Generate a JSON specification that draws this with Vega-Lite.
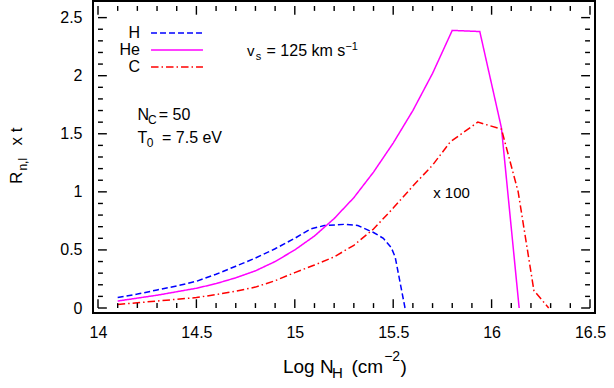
{
  "$schema": "https://vega.github.io/schema/vega-lite/v6.json",
  "width": 502,
  "height": 312,
  "autosize": {"type": "none"},
  "padding": {"left": 93, "top": 1, "right": 19, "bottom": 75},
  "background": "white",
  "config": {
    "view": {"stroke": "black", "strokeWidth": 2},
    "font": "Liberation Sans",
    "axis": {"domain": false, "grid": false, "ticks": false, "labelFont": "Liberation Sans", "labelFontSize": 16, "labelColor": "black", "labelFlush": false, "labelOverlap": false, "labelPadding": 11},
    "text": {"font": "Liberation Sans", "color": "black"}
  },
  "datasets": {
    "one": [{}],
    "xmaj": [{"v": 14}, {"v": 14.5}, {"v": 15}, {"v": 15.5}, {"v": 16}, {"v": 16.5}],
    "xmin": [{"v": 14.1}, {"v": 14.2}, {"v": 14.3}, {"v": 14.4}, {"v": 14.6}, {"v": 14.7}, {"v": 14.8}, {"v": 14.9}, {"v": 15.1}, {"v": 15.2}, {"v": 15.3}, {"v": 15.4}, {"v": 15.6}, {"v": 15.7}, {"v": 15.8}, {"v": 15.9}, {"v": 16.1}, {"v": 16.2}, {"v": 16.3}, {"v": 16.4}],
    "ymaj": [{"v": 0}, {"v": 0.5}, {"v": 1}, {"v": 1.5}, {"v": 2}, {"v": 2.5}],
    "ymin": [{"v": 0.1}, {"v": 0.2}, {"v": 0.3}, {"v": 0.4}, {"v": 0.6}, {"v": 0.7}, {"v": 0.8}, {"v": 0.9}, {"v": 1.1}, {"v": 1.2}, {"v": 1.3}, {"v": 1.4}, {"v": 1.6}, {"v": 1.7}, {"v": 1.8}, {"v": 1.9}, {"v": 2.1}, {"v": 2.2}, {"v": 2.3}, {"v": 2.4}],
    "curves": [
      {"x": 14.1, "y": 0.09, "s": "H"}, {"x": 14.2, "y": 0.12, "s": "H"}, {"x": 14.3, "y": 0.155, "s": "H"}, {"x": 14.4, "y": 0.19, "s": "H"}, {"x": 14.5, "y": 0.23, "s": "H"}, {"x": 14.6, "y": 0.29, "s": "H"}, {"x": 14.7, "y": 0.36, "s": "H"}, {"x": 14.8, "y": 0.43, "s": "H"}, {"x": 14.9, "y": 0.51, "s": "H"}, {"x": 15.0, "y": 0.6, "s": "H"}, {"x": 15.08, "y": 0.68, "s": "H"}, {"x": 15.15, "y": 0.71, "s": "H"}, {"x": 15.25, "y": 0.72, "s": "H"}, {"x": 15.32, "y": 0.71, "s": "H"}, {"x": 15.4, "y": 0.65, "s": "H"}, {"x": 15.45, "y": 0.6, "s": "H"}, {"x": 15.49, "y": 0.52, "s": "H"}, {"x": 15.51, "y": 0.44, "s": "H"}, {"x": 15.535, "y": 0.22, "s": "H"}, {"x": 15.56, "y": 0.0, "s": "H"},
      {"x": 14.1, "y": 0.06, "s": "He"}, {"x": 14.2, "y": 0.085, "s": "He"}, {"x": 14.3, "y": 0.11, "s": "He"}, {"x": 14.4, "y": 0.14, "s": "He"}, {"x": 14.5, "y": 0.17, "s": "He"}, {"x": 14.6, "y": 0.21, "s": "He"}, {"x": 14.7, "y": 0.26, "s": "He"}, {"x": 14.8, "y": 0.32, "s": "He"}, {"x": 14.9, "y": 0.4, "s": "He"}, {"x": 15.0, "y": 0.5, "s": "He"}, {"x": 15.1, "y": 0.62, "s": "He"}, {"x": 15.2, "y": 0.77, "s": "He"}, {"x": 15.3, "y": 0.95, "s": "He"}, {"x": 15.4, "y": 1.17, "s": "He"}, {"x": 15.5, "y": 1.42, "s": "He"}, {"x": 15.6, "y": 1.7, "s": "He"}, {"x": 15.7, "y": 2.02, "s": "He"}, {"x": 15.8, "y": 2.39, "s": "He"}, {"x": 15.94, "y": 2.38, "s": "He"}, {"x": 16.05, "y": 1.55, "s": "He"}, {"x": 16.14, "y": 0.0, "s": "He"},
      {"x": 14.1, "y": 0.03, "s": "C"}, {"x": 14.2, "y": 0.045, "s": "C"}, {"x": 14.3, "y": 0.06, "s": "C"}, {"x": 14.4, "y": 0.075, "s": "C"}, {"x": 14.5, "y": 0.09, "s": "C"}, {"x": 14.6, "y": 0.115, "s": "C"}, {"x": 14.7, "y": 0.145, "s": "C"}, {"x": 14.8, "y": 0.18, "s": "C"}, {"x": 14.9, "y": 0.235, "s": "C"}, {"x": 15.0, "y": 0.305, "s": "C"}, {"x": 15.1, "y": 0.37, "s": "C"}, {"x": 15.2, "y": 0.44, "s": "C"}, {"x": 15.3, "y": 0.54, "s": "C"}, {"x": 15.4, "y": 0.68, "s": "C"}, {"x": 15.5, "y": 0.86, "s": "C"}, {"x": 15.6, "y": 1.05, "s": "C"}, {"x": 15.7, "y": 1.23, "s": "C"}, {"x": 15.79, "y": 1.43, "s": "C"}, {"x": 15.93, "y": 1.6, "s": "C"}, {"x": 16.05, "y": 1.54, "s": "C"}, {"x": 16.135, "y": 1.0, "s": "C"}, {"x": 16.215, "y": 0.15, "s": "C"}, {"x": 16.29, "y": 0.0, "s": "C"}
    ]
  },
  "layer": [
    {
      "data": {"name": "curves"},
      "mark": {"type": "line", "strokeWidth": 1.5},
      "encoding": {
        "x": {"field": "x", "type": "quantitative", "scale": {"domain": [14, 16.5], "nice": false, "zero": false},
              "axis": {"orient": "bottom", "values": [14, 14.5, 15, 15.5, 16, 16.5], "format": "~g", "title": null}},
        "y": {"field": "y", "type": "quantitative", "scale": {"domain": [0, 2.6], "nice": false, "zero": false},
              "axis": {"orient": "left", "values": [0, 0.5, 1, 1.5, 2, 2.5], "format": "~g", "title": null}},
        "color": {"field": "s", "type": "nominal",
                  "scale": {"domain": ["H", "He", "C"], "range": ["#0000ff", "#ff00ff", "#ff0000"]},
                  "legend": {"title": null, "orient": "none", "legendX": 75, "legendY": 23, "symbolType": "M-3.15,0H3.15", "symbolSize": 272, "symbolStrokeWidth": 1.5, "labelAlign": "right", "labelOffset": -46, "labelFontSize": 16, "labelFont": "Liberation Sans", "labelColor": "black", "rowPadding": 0, "padding": 0, "labelBaseline": "middle", "symbolOffset": 0, "labelLimit": 100}},
        "strokeDash": {"field": "s", "type": "nominal",
                  "scale": {"domain": ["H", "He", "C"], "range": [[6, 3], [1, 0], [7.5, 3, 1.5, 3]]},
                  "legend": {"title": null, "orient": "none", "legendX": 75, "legendY": 23, "symbolType": "M-3.15,0H3.15", "symbolSize": 272, "symbolStrokeWidth": 1.5, "labelAlign": "right", "labelOffset": -46, "labelFontSize": 16, "labelFont": "Liberation Sans", "labelColor": "black", "rowPadding": 0, "padding": 0, "labelBaseline": "middle", "symbolOffset": 0, "labelLimit": 100}}
      }
    },
    {
      "data": {"name": "xmaj"},
      "mark": {"type": "bar", "color": "#000000", "width": 1.4},
      "encoding": {
        "x": {"field": "v", "type": "quantitative", "scale": {"domain": [14, 16.5], "nice": false, "zero": false}},
        "y": {"datum": 0, "type": "quantitative", "scale": {"domain": [0, 2.6], "nice": false, "zero": false}},
        "y2": {"datum": 0.075}
      }
    },
    {
      "data": {"name": "xmaj"},
      "mark": {"type": "bar", "color": "#000000", "width": 1.4},
      "encoding": {
        "x": {"field": "v", "type": "quantitative", "scale": {"domain": [14, 16.5], "nice": false, "zero": false}},
        "y": {"datum": 2.525, "type": "quantitative", "scale": {"domain": [0, 2.6], "nice": false, "zero": false}},
        "y2": {"datum": 2.6}
      }
    },
    {
      "data": {"name": "xmin"},
      "mark": {"type": "bar", "color": "#000000", "width": 1.4},
      "encoding": {
        "x": {"field": "v", "type": "quantitative", "scale": {"domain": [14, 16.5], "nice": false, "zero": false}},
        "y": {"datum": 0, "type": "quantitative", "scale": {"domain": [0, 2.6], "nice": false, "zero": false}},
        "y2": {"datum": 0.042}
      }
    },
    {
      "data": {"name": "xmin"},
      "mark": {"type": "bar", "color": "#000000", "width": 1.4},
      "encoding": {
        "x": {"field": "v", "type": "quantitative", "scale": {"domain": [14, 16.5], "nice": false, "zero": false}},
        "y": {"datum": 2.558, "type": "quantitative", "scale": {"domain": [0, 2.6], "nice": false, "zero": false}},
        "y2": {"datum": 2.6}
      }
    },
    {
      "data": {"name": "ymaj"},
      "mark": {"type": "bar", "color": "#000000", "height": 1.4},
      "encoding": {
        "y": {"field": "v", "type": "quantitative", "scale": {"domain": [0, 2.6], "nice": false, "zero": false}},
        "x": {"datum": 14, "type": "quantitative", "scale": {"domain": [14, 16.5], "nice": false, "zero": false}},
        "x2": {"datum": 14.045}
      }
    },
    {
      "data": {"name": "ymaj"},
      "mark": {"type": "bar", "color": "#000000", "height": 1.4},
      "encoding": {
        "y": {"field": "v", "type": "quantitative", "scale": {"domain": [0, 2.6], "nice": false, "zero": false}},
        "x": {"datum": 16.455, "type": "quantitative", "scale": {"domain": [14, 16.5], "nice": false, "zero": false}},
        "x2": {"datum": 16.5}
      }
    },
    {
      "data": {"name": "ymin"},
      "mark": {"type": "bar", "color": "#000000", "height": 1.4},
      "encoding": {
        "y": {"field": "v", "type": "quantitative", "scale": {"domain": [0, 2.6], "nice": false, "zero": false}},
        "x": {"datum": 14, "type": "quantitative", "scale": {"domain": [14, 16.5], "nice": false, "zero": false}},
        "x2": {"datum": 14.025}
      }
    },
    {
      "data": {"name": "ymin"},
      "mark": {"type": "bar", "color": "#000000", "height": 1.4},
      "encoding": {
        "y": {"field": "v", "type": "quantitative", "scale": {"domain": [0, 2.6], "nice": false, "zero": false}},
        "x": {"datum": 16.475, "type": "quantitative", "scale": {"domain": [14, 16.5], "nice": false, "zero": false}},
        "x2": {"datum": 16.5}
      }
    },
    {
      "data": {"name": "one"},
      "mark": {"type": "text", "text": "x 100", "align": "left", "baseline": "alphabetic", "fontSize": 15},
      "encoding": {
        "x": {"datum": 15.703, "type": "quantitative", "scale": {"domain": [14, 16.5], "nice": false, "zero": false}},
        "y": {"datum": 0.9475, "type": "quantitative", "scale": {"domain": [0, 2.6], "nice": false, "zero": false}}
      }
    },
    {
      "data": {"name": "one"},
      "mark": {"type": "text", "text": "v", "align": "left", "baseline": "alphabetic", "fontSize": 15},
      "encoding": {
        "x": {"datum": 14.757, "type": "quantitative", "scale": {"domain": [14, 16.5], "nice": false, "zero": false}},
        "y": {"datum": 2.1725, "type": "quantitative", "scale": {"domain": [0, 2.6], "nice": false, "zero": false}}
      }
    },
    {
      "data": {"name": "one"},
      "mark": {"type": "text", "text": "s", "align": "left", "baseline": "alphabetic", "fontSize": 11},
      "encoding": {
        "x": {"datum": 14.8018, "type": "quantitative", "scale": {"domain": [14, 16.5], "nice": false, "zero": false}},
        "y": {"datum": 2.1358, "type": "quantitative", "scale": {"domain": [0, 2.6], "nice": false, "zero": false}}
      }
    },
    {
      "data": {"name": "one"},
      "mark": {"type": "text", "text": "= 125 km s", "align": "left", "baseline": "alphabetic", "fontSize": 16},
      "encoding": {
        "x": {"datum": 14.8566, "type": "quantitative", "scale": {"domain": [14, 16.5], "nice": false, "zero": false}},
        "y": {"datum": 2.1725, "type": "quantitative", "scale": {"domain": [0, 2.6], "nice": false, "zero": false}}
      }
    },
    {
      "data": {"name": "one"},
      "mark": {"type": "text", "text": "−1", "align": "left", "baseline": "alphabetic", "fontSize": 11},
      "encoding": {
        "x": {"datum": 15.257, "type": "quantitative", "scale": {"domain": [14, 16.5], "nice": false, "zero": false}},
        "y": {"datum": 2.2233, "type": "quantitative", "scale": {"domain": [0, 2.6], "nice": false, "zero": false}}
      }
    },
    {
      "data": {"name": "one"},
      "mark": {"type": "text", "text": "N", "align": "left", "baseline": "alphabetic", "fontSize": 16},
      "encoding": {
        "x": {"datum": 14.2007, "type": "quantitative", "scale": {"domain": [14, 16.5], "nice": false, "zero": false}},
        "y": {"datum": 1.6225, "type": "quantitative", "scale": {"domain": [0, 2.6], "nice": false, "zero": false}}
      }
    },
    {
      "data": {"name": "one"},
      "mark": {"type": "text", "text": "C", "align": "left", "baseline": "alphabetic", "fontSize": 12},
      "encoding": {
        "x": {"datum": 14.254, "type": "quantitative", "scale": {"domain": [14, 16.5], "nice": false, "zero": false}},
        "y": {"datum": 1.5808, "type": "quantitative", "scale": {"domain": [0, 2.6], "nice": false, "zero": false}}
      }
    },
    {
      "data": {"name": "one"},
      "mark": {"type": "text", "text": "= 50", "align": "left", "baseline": "alphabetic", "fontSize": 16},
      "encoding": {
        "x": {"datum": 14.3088, "type": "quantitative", "scale": {"domain": [14, 16.5], "nice": false, "zero": false}},
        "y": {"datum": 1.6225, "type": "quantitative", "scale": {"domain": [0, 2.6], "nice": false, "zero": false}}
      }
    },
    {
      "data": {"name": "one"},
      "mark": {"type": "text", "text": "T", "align": "left", "baseline": "alphabetic", "fontSize": 16},
      "encoding": {
        "x": {"datum": 14.2007, "type": "quantitative", "scale": {"domain": [14, 16.5], "nice": false, "zero": false}},
        "y": {"datum": 1.4192, "type": "quantitative", "scale": {"domain": [0, 2.6], "nice": false, "zero": false}}
      }
    },
    {
      "data": {"name": "one"},
      "mark": {"type": "text", "text": "0", "align": "left", "baseline": "alphabetic", "fontSize": 12},
      "encoding": {
        "x": {"datum": 14.2475, "type": "quantitative", "scale": {"domain": [14, 16.5], "nice": false, "zero": false}},
        "y": {"datum": 1.3858, "type": "quantitative", "scale": {"domain": [0, 2.6], "nice": false, "zero": false}}
      }
    },
    {
      "data": {"name": "one"},
      "mark": {"type": "text", "text": "= 7.5 eV", "align": "left", "baseline": "alphabetic", "fontSize": 16},
      "encoding": {
        "x": {"datum": 14.3252, "type": "quantitative", "scale": {"domain": [14, 16.5], "nice": false, "zero": false}},
        "y": {"datum": 1.4192, "type": "quantitative", "scale": {"domain": [0, 2.6], "nice": false, "zero": false}}
      }
    },
    {
      "data": {"name": "one"},
      "mark": {"type": "text", "text": "Log N", "align": "left", "baseline": "alphabetic", "fontSize": 19},
      "encoding": {
        "x": {"datum": 14.9397, "type": "quantitative", "scale": {"domain": [14, 16.5], "nice": false, "zero": false}},
        "y": {"datum": -0.5625, "type": "quantitative", "scale": {"domain": [0, 2.6], "nice": false, "zero": false}}
      }
    },
    {
      "data": {"name": "one"},
      "mark": {"type": "text", "text": "H", "align": "left", "baseline": "alphabetic", "fontSize": 15},
      "encoding": {
        "x": {"datum": 15.1887, "type": "quantitative", "scale": {"domain": [14, 16.5], "nice": false, "zero": false}},
        "y": {"datum": -0.6, "type": "quantitative", "scale": {"domain": [0, 2.6], "nice": false, "zero": false}}
      }
    },
    {
      "data": {"name": "one"},
      "mark": {"type": "text", "text": "(cm", "align": "left", "baseline": "alphabetic", "fontSize": 19},
      "encoding": {
        "x": {"datum": 15.2883, "type": "quantitative", "scale": {"domain": [14, 16.5], "nice": false, "zero": false}},
        "y": {"datum": -0.5625, "type": "quantitative", "scale": {"domain": [0, 2.6], "nice": false, "zero": false}}
      }
    },
    {
      "data": {"name": "one"},
      "mark": {"type": "text", "text": "−2", "align": "left", "baseline": "alphabetic", "fontSize": 14},
      "encoding": {
        "x": {"datum": 15.4542, "type": "quantitative", "scale": {"domain": [14, 16.5], "nice": false, "zero": false}},
        "y": {"datum": -0.455, "type": "quantitative", "scale": {"domain": [0, 2.6], "nice": false, "zero": false}}
      }
    },
    {
      "data": {"name": "one"},
      "mark": {"type": "text", "text": ")", "align": "left", "baseline": "alphabetic", "fontSize": 19},
      "encoding": {
        "x": {"datum": 15.5373, "type": "quantitative", "scale": {"domain": [14, 16.5], "nice": false, "zero": false}},
        "y": {"datum": -0.5625, "type": "quantitative", "scale": {"domain": [0, 2.6], "nice": false, "zero": false}}
      }
    },
    {
      "data": {"name": "one"},
      "mark": {"type": "text", "text": "R", "align": "left", "baseline": "alphabetic", "fontSize": 17, "angle": 270},
      "encoding": {
        "x": {"datum": 13.6116, "type": "quantitative", "scale": {"domain": [14, 16.5], "nice": false, "zero": false}},
        "y": {"datum": 1.0667, "type": "quantitative", "scale": {"domain": [0, 2.6], "nice": false, "zero": false}}
      }
    },
    {
      "data": {"name": "one"},
      "mark": {"type": "text", "text": "n,l", "align": "left", "baseline": "alphabetic", "fontSize": 12, "angle": 270},
      "encoding": {
        "x": {"datum": 13.639, "type": "quantitative", "scale": {"domain": [14, 16.5], "nice": false, "zero": false}},
        "y": {"datum": 1.1833, "type": "quantitative", "scale": {"domain": [0, 2.6], "nice": false, "zero": false}}
      }
    },
    {
      "data": {"name": "one"},
      "mark": {"type": "text", "text": "x t", "align": "left", "baseline": "alphabetic", "fontSize": 17, "angle": 270},
      "encoding": {
        "x": {"datum": 13.6116, "type": "quantitative", "scale": {"domain": [14, 16.5], "nice": false, "zero": false}},
        "y": {"datum": 1.4, "type": "quantitative", "scale": {"domain": [0, 2.6], "nice": false, "zero": false}}
      }
    }
  ]
}
